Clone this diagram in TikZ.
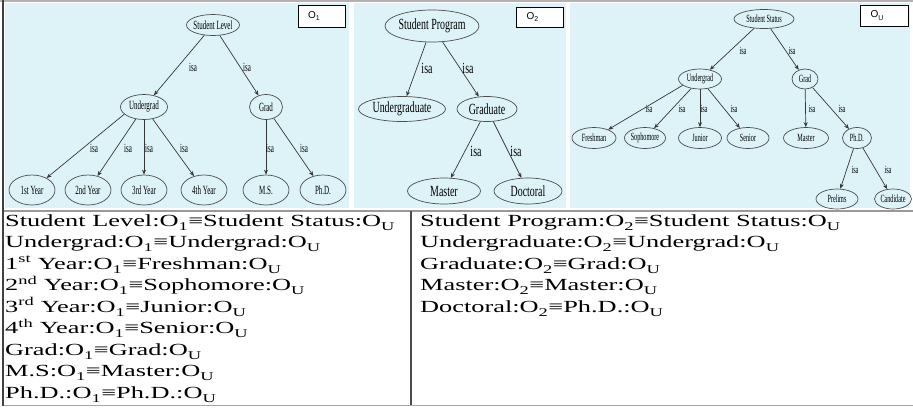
\documentclass[tikz,border=0pt]{standalone}
\usepackage{fontspec}
\setmainfont{Liberation Serif}
\newfontfamily\gvfont[FakeStretch=0.56]{Liberation Serif}
\newfontfamily\gvwfont[FakeStretch=0.64]{Liberation Serif}
\newfontfamily\tabfont[FakeStretch=1.55]{Liberation Serif}
\newfontfamily\boxfont{Liberation Sans}
\usetikzlibrary{arrows.meta,shapes.geometric}
\definecolor{panelblue}{RGB}{221,243,247}
\definecolor{edgegray}{RGB}{55,55,55}
\newcommand{\ontO}[1]{O\textsubscript{\raisebox{-0.3ex}{#1}}}

\begin{document}
\begin{tikzpicture}[x=1pt,y=-1pt,
  cls/.style={ellipse,draw=black!70,line width=0.7pt,inner sep=-4pt},
  wh/.style 2 args={minimum width=#1pt,minimum height=#2pt},
  isa/.style={-{Stealth[length=5pt,width=4pt]},draw=edgegray,line width=0.7pt},
  lbl/.style={inner sep=0pt},
  tag/.style={draw,fill=white,line width=0.6pt,inner xsep=10pt,inner ysep=0pt,
    text width=27pt,align=left,font=\boxfont\fontsize{10}{10}\selectfont},
  row/.style={font=\tabfont\fontsize{17}{20}\selectfont,anchor=base west,inner sep=0pt},
  ]

  \useasboundingbox (0,0) rectangle (913,408);

  % backgrounds of the three ontologies
  \fill[panelblue] (5,3) rectangle (349,208);
  \fill[panelblue] (354,3) rectangle (566,208);
  \fill[panelblue] (570,3) rectangle (910,208);

  \draw[gray!60,line width=1.5pt] (0,1) -- (913,1);
  \draw[gray!80,line width=1.2pt] (3,211) -- (913,211);
  \draw[gray!70,line width=1.5pt] (3,405.5) -- (913,405.5);
  \draw[black!75,line width=1.5pt] (3,0) -- (3,406);
  \draw[black!70,line width=1.5pt] (411,211) -- (411,405);

  \node (tag1) [tag,minimum width=47pt,minimum height=22pt] at(321.5,16) {\ontO{1}};
  \node (tag2) [tag,minimum width=46pt,minimum height=20pt] at(540,17) {\ontO{2}};
  \node (tag3) [tag,minimum width=48pt,minimum height=21pt] at(884,15.5) {\ontO{U}};

  % O1
  \begin{scope}[font=\gvfont\fontsize{12.5}{13}\selectfont]
    \node (sl) [cls,wh={53}{21}] at(213,25) {Student Level};
    \node (ug1) [cls,wh={47}{25}] at(144,107) {Undergrad};
    \node (gr1) [cls,wh={33}{25}] at(266,107) {Grad};
    \foreach \n/\x/\t in {y1/32/1st Year,y2/88/2nd Year,y3/144/3rd Year,y4/204/4th Year,ms/266/M.S.,phd1/323/Ph.D.}
      \node (\n) [cls,wh={46}{30}] at(\x,190) {\t};
    \draw[isa] (sl) -- (ug1);
    \draw[isa] (sl) -- (gr1);
    \draw[isa] (ug1.200) -- (y1);
    \foreach \n in {y2,y3,y4}
      \draw[isa] (ug1) -- (\n);
    \foreach \n in {ms,phd1}
      \draw[isa] (gr1) -- (\n);
    \foreach \x/\y [count=\i] in {193/67,247/67,94/148,128/148,149/148,184/148,270/148,304/148}
      \node (isa1_\i) [lbl] at(\x,\y) {isa};
  \end{scope}

  % O2
  \begin{scope}[font=\gvwfont\fontsize{15.5}{16}\selectfont]
    \node (sp) [cls,wh={94}{32}] at(432,26) {Student Program};
    \node (ugr) [cls,wh={87}{25}] at(402,109) {Undergraduate};
    \node (grd) [cls,wh={60}{25}] at(487,109) {Graduate};
    \node (mst) [cls,wh={73}{26}] at(444,191) {Master};
    \node (doc) [cls,wh={68}{26}] at(528,191) {Doctoral};
    \draw[isa] (sp) -- (ugr);
    \draw[isa] (sp) -- (grd);
    \draw[isa] (grd) -- (mst);
    \draw[isa] (grd) -- (doc);
    \foreach \x/\y [count=\i] in {427/68,468/68,476/151,516/151}
      \node (isa2_\i) [lbl] at(\x,\y) {isa};
  \end{scope}

  % OU
  \begin{scope}[font=\gvfont\fontsize{11}{11}\selectfont]
    \node (ss) [cls,wh={60}{19}] at(764,19) {Student Status};
    \node (ug3) [cls,wh={43}{20}] at(700,79) {Undergrad};
    \node (gr3) [cls,wh={26}{20}] at(805,79) {Grad};
    \foreach \n/\x/\w/\t in {fr/594/44/Freshman,so/645/41/Sophomore,ju/700/43/Junior,se/748/42/Senior,ma3/806/45/Master,phd3/857/29/Ph.D.}
      \node (\n) [cls,wh={\w}{21}] at(\x,138) {\t};
    \node (pre) [cls,wh={42}{20}] at(837,199) {Prelims};
    \node (can) [cls,wh={37}{20}] at(893,199) {Candidate};
    \draw[isa] (ss) -- (ug3);
    \draw[isa] (ss) -- (gr3);
    \draw[isa] (ug3.200) -- (fr);
    \foreach \n in {so,ju,se}
      \draw[isa] (ug3) -- (\n);
    \foreach \n in {ma3,phd3}
      \draw[isa] (gr3) -- (\n);
    \foreach \n in {pre,can}
      \draw[isa] (phd3) -- (\n);
    \foreach \x/\y [count=\i] in {743/51,792/51,649/109,682/109,704/109,734/109,812/109,842/109,855/170,888/170}
      \node (isa3_\i) [lbl] at(\x,\y) {isa};
  \end{scope}

  % alignments
  \foreach \t [count=\i] in {Student Level:\ontO{1}≡Student Status:\ontO{U},
      Undergrad:\ontO{1}≡Undergrad:\ontO{U},
      1\textsuperscript{st} Year:\ontO{1}≡Freshman:\ontO{U},
      2\textsuperscript{nd} Year:\ontO{1}≡Sophomore:\ontO{U},
      3\textsuperscript{rd} Year:\ontO{1}≡Junior:\ontO{U},
      4\textsuperscript{th} Year:\ontO{1}≡Senior:\ontO{U},
      Grad:\ontO{1}≡Grad:\ontO{U},
      M.S:\ontO{1}≡Master:\ontO{U},
      Ph.D.:\ontO{1}≡Ph.D.:\ontO{U}}
    \node (left\i) [row] at(5,{226+21.5*(\i-1)}) {\t};

  \foreach \t [count=\i] in {Student Program:\ontO{2}≡Student Status:\ontO{U},
      Undergraduate:\ontO{2}≡Undergrad:\ontO{U},
      Graduate:\ontO{2}≡Grad:\ontO{U},
      Master:\ontO{2}≡Master:\ontO{U},
      Doctoral:\ontO{2}≡Ph.D.:\ontO{U}}
    \node (right\i) [row] at(420,{226+21.5*(\i-1)}) {\t};

\end{tikzpicture}
\end{document}
